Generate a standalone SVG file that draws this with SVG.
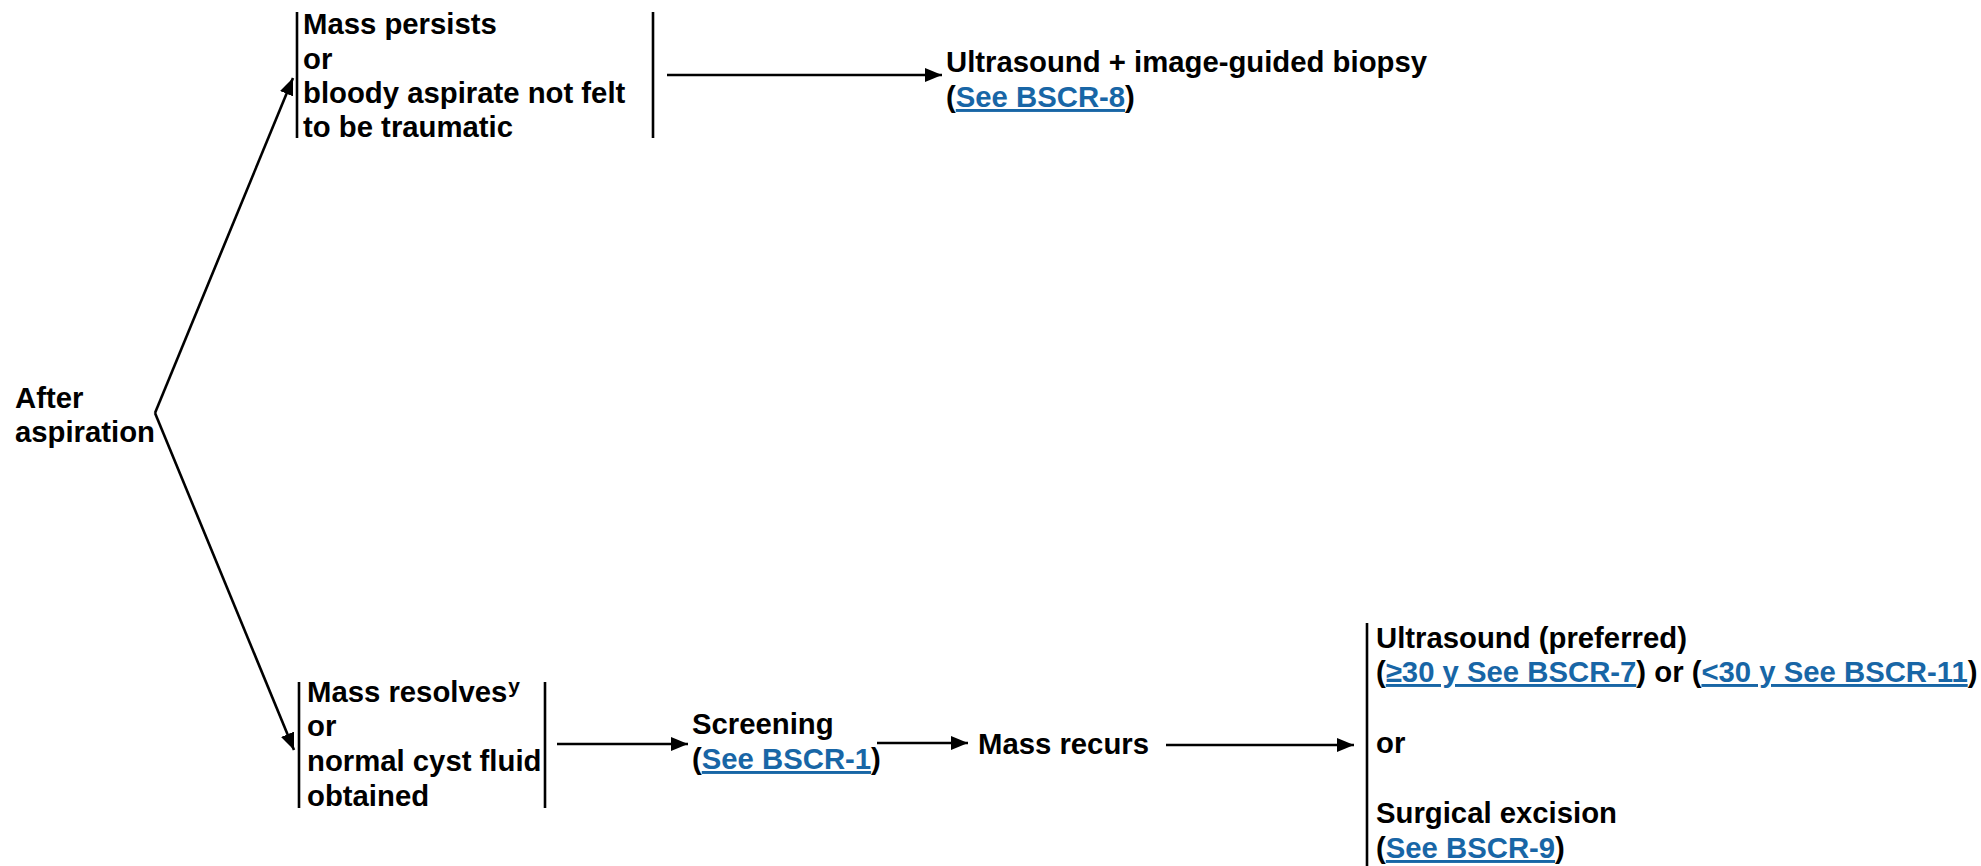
<svg xmlns="http://www.w3.org/2000/svg" width="1981" height="866" viewBox="0 0 1981 866">
<style>
text{font-family:"Liberation Sans",Arial,sans-serif;font-size:29.3px;font-weight:bold;fill:#000}
.lk{fill:#1866a6;text-decoration:underline}
.sup{font-size:21px}
.bar{stroke:#000;stroke-width:2.6;fill:none}
.cn{stroke:#000;stroke-width:2.6;fill:none;marker-end:url(#ah)}
</style>
<defs>
<marker id="ah" markerUnits="userSpaceOnUse" markerWidth="18" markerHeight="14" refX="17" refY="7" orient="auto">
<path d="M0,0 L17,7 L0,14 Z" fill="#000"/>
</marker>
</defs>
<rect width="1981" height="866" fill="#fff"/>
<g id="start">
<text x="15" y="408">After</text>
<text x="15" y="442">aspiration</text>
</g>
<g id="persists">
<line class="bar" x1="297" y1="12" x2="297" y2="138"/>
<line class="bar" x1="653" y1="12" x2="653" y2="138"/>
<text x="303" y="34">Mass persists</text>
<text x="303" y="68.5">or</text>
<text x="303" y="103">bloody aspirate not felt</text>
<text x="303" y="137">to be traumatic</text>
</g>
<g id="biopsy">
<text x="946" y="72">Ultrasound + image-guided biopsy</text>
<text x="946" y="107">(<tspan class="lk">See BSCR-8</tspan>)</text>
</g>
<g id="resolves">
<line class="bar" x1="299" y1="682" x2="299" y2="808"/>
<line class="bar" x1="545" y1="682" x2="545" y2="808"/>
<text x="307" y="702">Mass resolves<tspan class="sup" dx="1" dy="-9">y</tspan></text>
<text x="307" y="736">or</text>
<text x="307" y="771">normal cyst fluid</text>
<text x="307" y="806">obtained</text>
</g>
<g id="screening">
<text x="692" y="734">Screening</text>
<text x="692" y="769">(<tspan class="lk">See BSCR-1</tspan>)</text>
</g>
<g id="recurs">
<text x="978" y="754">Mass recurs</text>
</g>
<g id="options">
<line class="bar" x1="1367" y1="623" x2="1367" y2="866"/>
<text x="1376" y="648">Ultrasound (preferred)</text>
<text x="1376" y="682">(<tspan class="lk">≥30 y See BSCR-7</tspan>) or (<tspan class="lk">&lt;30 y See BSCR-11</tspan>)</text>
<text x="1376" y="753">or</text>
<text x="1376" y="823">Surgical excision</text>
<text x="1376" y="858">(<tspan class="lk">See BSCR-9</tspan>)</text>
</g>
<g id="connectors">
<path class="cn" d="M155,413 L293,78"/>
<path class="cn" d="M155,413 L294,750"/>
<path class="cn" d="M667,75 L942,75"/>
<path class="cn" d="M557,744 L688,744"/>
<path class="cn" d="M877,743 L968,743"/>
<path class="cn" d="M1166,745 L1354,745"/>
</g>
</svg>
